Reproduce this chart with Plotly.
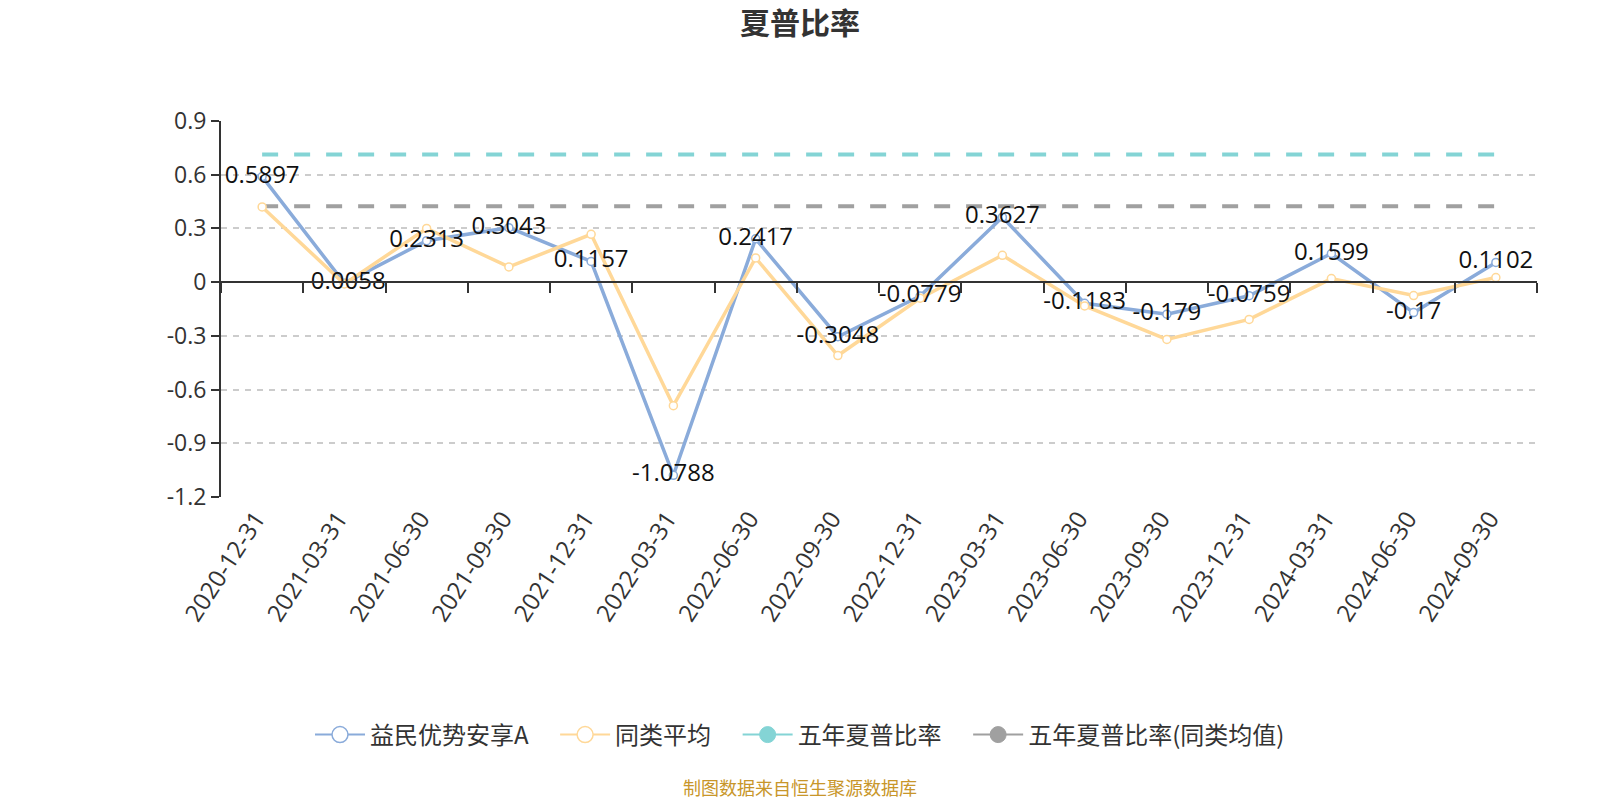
import plotly.graph_objects as go

dates = ["2020-12-31", "2021-03-31", "2021-06-30", "2021-09-30", "2021-12-31",
         "2022-03-31", "2022-06-30", "2022-09-30", "2022-12-31", "2023-03-31",
         "2023-06-30", "2023-09-30", "2023-12-31", "2024-03-31", "2024-06-30",
         "2024-09-30"]
fund = [0.5897, -0.0058, 0.2313, 0.3043, 0.1157, -1.0788, 0.2417, -0.3048,
        -0.0779, 0.3627, -0.1183, -0.179, -0.0759, 0.1599, -0.17, 0.1102]
peer = [0.42, -0.01, 0.30, 0.085, 0.267, -0.69, 0.135, -0.41, -0.09, 0.15,
        -0.133, -0.32, -0.208, 0.02, -0.075, 0.026]
five_year = 0.713
five_year_peer = 0.424

y_ticks = [0.9, 0.6, 0.3, 0, -0.3, -0.6, -0.9, -1.2]
y_tick_text = ["0.9", "0.6", "0.3", "0", "-0.3", "-0.6", "-0.9", "-1.2"]

names = ["益民优势安享A", "同类平均", "五年夏普比率", "五年夏普比率(同类均值)"]
BLUE = "#8AABDA"
YELLOW = "#FFD898"
CYAN = "#84D4D5"
GRAY = "#A0A0A0"

FONT = "Open Sans, Noto Sans CJK SC"
PAD = "\u00a0" * 4

fig = go.Figure()

# horizontal reference lines
fig.add_trace(go.Scatter(x=dates, y=[five_year] * len(dates), mode="lines",
                         line=dict(color=CYAN, width=4, dash="16px,16px"),
                         showlegend=False, hoverinfo="skip"))
fig.add_trace(go.Scatter(x=dates, y=[five_year_peer] * len(dates), mode="lines",
                         line=dict(color=GRAY, width=4, dash="16px,16px"),
                         showlegend=False, hoverinfo="skip"))

# fund and peer lines
fig.add_trace(go.Scatter(x=dates, y=fund, mode="lines+markers",
                         line=dict(color=BLUE, width=3.5),
                         marker=dict(size=8, color="white", line=dict(color=BLUE, width=1.5)),
                         showlegend=False))
fig.add_trace(go.Scatter(x=dates, y=peer, mode="lines+markers",
                         line=dict(color=YELLOW, width=3.5),
                         marker=dict(size=8, color="white", line=dict(color=YELLOW, width=1.5)),
                         showlegend=False))

# data labels for fund
fig.add_trace(go.Scatter(x=dates, y=fund, mode="text", text=[str(v) for v in fund],
                         textposition="middle center",
                         textfont=dict(family=FONT, size=24, color="#111111"),
                         showlegend=False, hoverinfo="skip"))

# legend-only entries
fig.add_trace(go.Scatter(x=[None], y=[None], mode="lines+markers", name=names[0] + PAD,
                         line=dict(color=BLUE, width=2),
                         marker=dict(size=16, color="white", line=dict(color=BLUE, width=1.5))))
fig.add_trace(go.Scatter(x=[None], y=[None], mode="lines+markers", name=names[1] + PAD,
                         line=dict(color=YELLOW, width=2),
                         marker=dict(size=16, color="white", line=dict(color=YELLOW, width=1.5))))
fig.add_trace(go.Scatter(x=[None], y=[None], mode="lines+markers", name=names[2] + PAD,
                         line=dict(color=CYAN, width=2),
                         marker=dict(size=16, color=CYAN, line=dict(color=CYAN, width=1))))
fig.add_trace(go.Scatter(x=[None], y=[None], mode="lines+markers", name=names[3],
                         line=dict(color=GRAY, width=2),
                         marker=dict(size=16, color=GRAY, line=dict(color=GRAY, width=1))))

# axis line at zero with boundary ticks
fig.add_trace(go.Scatter(x=dates, y=[None] * len(dates), xaxis="x2", yaxis="y",
                         mode="lines", showlegend=False, hoverinfo="skip"))

fig.update_layout(
    width=1600, height=800,
    margin=dict(l=221, r=63, t=121, b=303),
    paper_bgcolor="white", plot_bgcolor="white",
    font=dict(family=FONT, color="#333333"),
    title=dict(text="<b>夏普比率</b>", x=0.5, xanchor="center", y=0.971, yanchor="middle",
               font=dict(family="Noto Sans CJK SC", size=30, color="#333333")),
    xaxis=dict(type="category", categoryorder="array", categoryarray=dates,
               range=[-0.5, len(dates) - 0.5],
               showline=False, showgrid=False, zeroline=False, ticks="",
               tickangle=-57, tickfont=dict(size=24, color="#333333"),
               ticklabelstandoff=2, ticklabelshift=-6),
    xaxis2=dict(type="category", categoryorder="array", categoryarray=dates,
                matches="x", overlaying="x", anchor="free",
                position=(0 - (-1.2)) / (0.9 - (-1.2)),
                showline=True, linecolor="#333333", linewidth=2,
                ticks="outside", tickson="boundaries", ticklen=10, tickwidth=2,
                tickcolor="#333333", showticklabels=False, showgrid=False,
                zeroline=False),
    yaxis=dict(range=[-1.2, 0.9], tickvals=y_ticks, ticktext=y_tick_text,
               showline=True, linecolor="#333333", linewidth=2,
               ticks="outside", ticklen=8, tickwidth=2, tickcolor="#333333",
               showgrid=True, gridcolor="#CCCCCC", gridwidth=1.5, griddash="6px,6px",
               zeroline=False, tickfont=dict(size=23, color="#333333")),
    legend=dict(orientation="h", xref="container", x=0.5, xanchor="center",
                yref="container", y=1 - 735 / 800, yanchor="middle",
                font=dict(family="Noto Sans CJK SC", size=24, color="#333333"),
                itemwidth=50, itemclick=False),
    annotations=[dict(text="制图数据来自恒生聚源数据库", xref="paper", yref="paper",
                      x=(800 - 221) / 1316, y=(496.7 - 787) / 376, xanchor="center",
                      yanchor="middle", showarrow=False,
                      font=dict(family="Noto Sans CJK SC", size=18, color="#C8962A"))],
)

fig.write_html("out.html")
